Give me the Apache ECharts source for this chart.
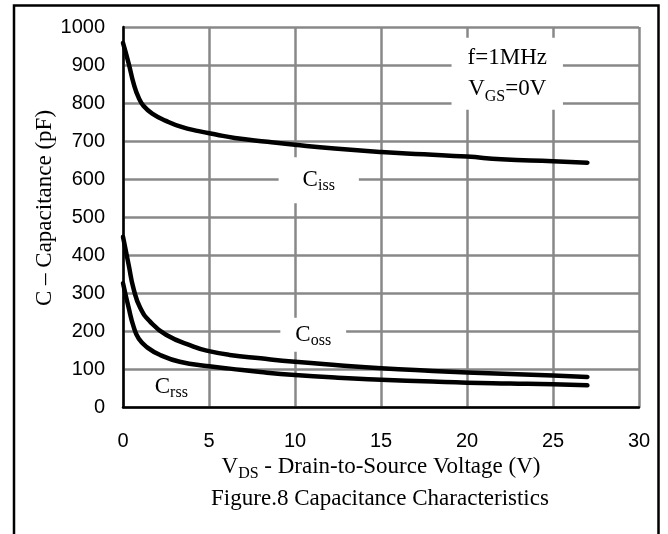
<!DOCTYPE html>
<html>
<head>
<meta charset="utf-8">
<title>Capacitance Characteristics</title>
<script src="https://cdn.jsdelivr.net/npm/echarts@6/dist/echarts.min.js"></script>
<style>
    html, body { margin: 0; padding: 0; background: #fff; }
    #chart { width: 668px; height: 534px; }
</style>
</head>
<body>
<div id="chart"></div>
<script>
// x ticks / y ticks
let xTicks = [0, 5, 10, 15, 20, 25, 30];
let yTicks = [0, 100, 200, 300, 400, 500, 600, 700, 800, 900, 1000];

// Ciss curve (VDS in V, C in pF)
let vdsIss = [0, 0.33, 0.62, 0.91, 1.2, 1.7, 2.5, 3.4, 4.4, 5.4, 6.5, 8.4, 10, 12.3, 15, 17.5, 20, 22, 25, 27];
let ciss = [958, 904, 851, 814, 792, 772, 753, 737, 726, 717, 708, 698, 690, 680, 671, 665, 659, 652, 647, 643];

// Coss curve
let vdsOss = [0, 0.33, 0.62, 1.0, 1.55, 2.5, 4.1, 5.0, 6.2, 8, 10, 12.5, 15, 18, 20, 22.5, 25, 27];
let coss = [448, 374, 310, 261, 226, 190, 159, 147, 137, 128, 119, 110, 102, 95, 91, 87, 83, 79];

// Crss curve
let vdsRss = [0, 0.33, 0.62, 0.91, 1.4, 2.2, 3.3, 5.0, 6.2, 8, 10, 12.5, 15, 18, 20, 22.5, 25, 27];
let crss = [326, 261, 211, 180, 157, 136, 119, 107, 101, 92, 84, 77, 72, 67, 64, 62, 60, 57];

// where the curve names / test conditions sit (data coords)
let issNoteAt = [11.38, 597];
let ossNoteAt = [11.06, 190];
let rssNoteAt = [2.81, 52];
let condNoteAt = [22.34, 877];

const serif = 'Liberation Serif';
const sans = 'Liberation Sans';

function pairs(xs, ys) {
    return xs.map((x, i) => [x, ys[i]]);
}

const sub = {
    a: { fontFamily: serif, fontSize: 23, color: '#000', lineHeight: 28 },
    b: { fontFamily: serif, fontSize: 16, color: '#000', lineHeight: 14, verticalAlign: 'bottom' },
    c: { fontFamily: serif, fontSize: 23, color: '#000', lineHeight: 31 },
    d: { fontFamily: serif, fontSize: 16, color: '#000', lineHeight: 22, verticalAlign: 'bottom' }
};

function note(coord, text, padding, bg) {
    return {
        coord: coord,
        symbol: 'rect',
        symbolSize: 0,
        label: {
            show: true,
            position: 'inside',
            formatter: text,
            rich: sub,
            backgroundColor: bg ? '#fff' : 'transparent',
            padding: padding
        }
    };
}

const curveStyle = { color: '#000', width: 4.5, cap: 'round', join: 'round' };

let chart = echarts.init(document.getElementById('chart'));

let option = {
    animation: false,
    backgroundColor: '#fff',
    grid: { left: 123, top: 27, width: 516, height: 380 },
    xAxis: {
        type: 'value',
        min: xTicks[0],
        max: xTicks[xTicks.length - 1],
        interval: 5,
        axisLine: { show: true, lineStyle: { color: '#000', width: 2.5 } },
        axisTick: { show: false },
        splitLine: { show: true, lineStyle: { color: '#888', width: 2.5 } },
        axisLabel: { fontFamily: sans, fontSize: 20, color: '#000', margin: 24 },
        name: '{a|V}{b|DS}{a| - Drain-to-Source Voltage (V)}',
        nameLocation: 'middle',
        nameGap: 46,
        nameTextStyle: { rich: sub }
    },
    yAxis: {
        type: 'value',
        min: yTicks[0],
        max: yTicks[yTicks.length - 1],
        interval: 100,
        axisLine: { show: true, lineStyle: { color: '#000', width: 2.5 } },
        axisTick: { show: false },
        splitLine: { show: true, lineStyle: { color: '#888', width: 2.5 } },
        axisLabel: {
            fontFamily: sans, fontSize: 20, color: '#000', margin: 18,
            formatter: (v) => String(v)
        }
    },
    graphic: [
        {
            // outer frame, open at the bottom edge of the picture
            type: 'rect',
            shape: { x: 14, y: 5.5, width: 644.5, height: 600 },
            style: { fill: 'none', stroke: '#000', lineWidth: 2.5 },
            silent: true
        },
        {
            type: 'text',
            x: 45,
            y: 208,
            rotation: Math.PI / 2,
            style: {
                text: 'C – Capacitance (pF)',
                fontFamily: serif,
                fontSize: 23,
                fill: '#000',
                align: 'center',
                verticalAlign: 'middle'
            }
        },
        {
            type: 'text',
            x: 380,
            y: 499,
            style: {
                text: 'Figure.8 Capacitance Characteristics',
                fontFamily: serif,
                fontSize: 23,
                fill: '#000',
                align: 'center',
                verticalAlign: 'middle'
            }
        }
    ],
    series: [
        {
            name: 'Ciss',
            type: 'line',
            data: pairs(vdsIss, ciss),
            showSymbol: false,
            smooth: 0.5,
            lineStyle: curveStyle,
            markPoint: {
                silent: true,
                data: [
                    note(issNoteAt, '{a|C}{b|iss}', [9, 24], true),
                    note(condNoteAt, '{c|f=1MHz}\n{c|V}{d|GS}{c|=0V}', [5, 16], true)
                ]
            }
        },
        {
            name: 'Coss',
            type: 'line',
            data: pairs(vdsOss, coss),
            showSymbol: false,
            smooth: 0.5,
            lineStyle: curveStyle,
            markPoint: {
                silent: true,
                data: [note(ossNoteAt, '{a|C}{b|oss}', [3, 15], true)]
            }
        },
        {
            name: 'Crss',
            type: 'line',
            data: pairs(vdsRss, crss),
            showSymbol: false,
            smooth: 0.5,
            lineStyle: curveStyle,
            markPoint: {
                silent: true,
                data: [note(rssNoteAt, '{a|C}{b|rss}', [0, 0], false)]
            }
        }
    ]
};

chart.setOption(option);
</script>
</body>
</html>
